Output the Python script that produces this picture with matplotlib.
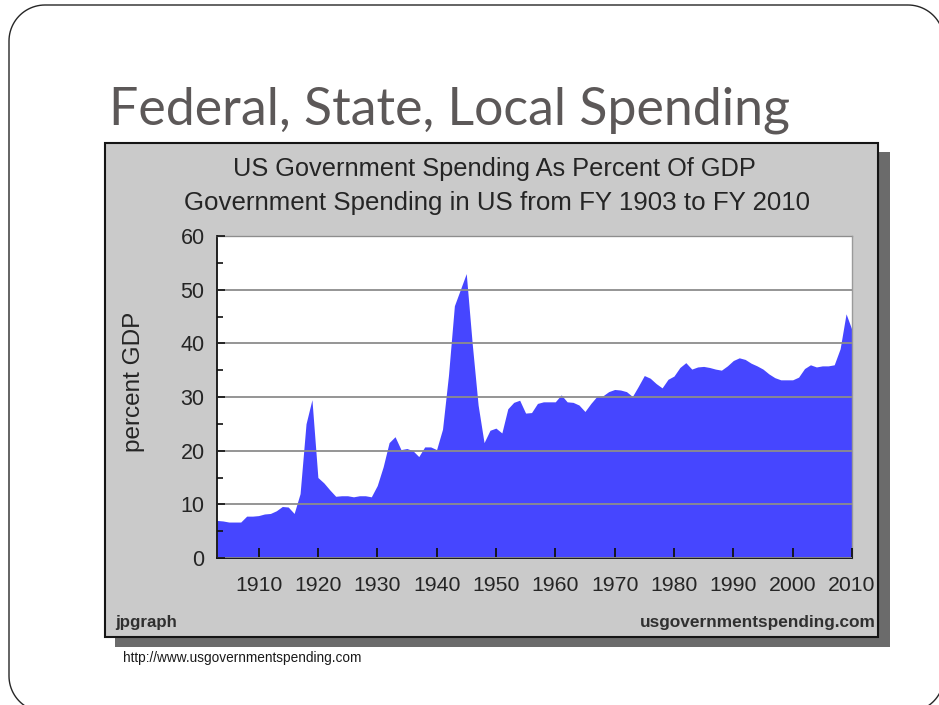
import matplotlib
matplotlib.use("Agg")
import numpy as np
import matplotlib.pyplot as plt
from matplotlib.patches import Rectangle, PathPatch
from matplotlib.path import Path
from matplotlib.transforms import IdentityTransform

# ---------------- data ----------------
years = list(range(1903, 2011))
pct_gdp = [
    7.0, 6.9, 6.7, 6.7, 6.7, 7.8, 7.8,            # 1903-1909
    7.9, 8.2, 8.3, 8.8, 9.6, 9.5, 8.3, 12.0, 25.0, 29.5,   # 1910-1919
    15.0, 14.0, 12.7, 11.5, 11.6, 11.6, 11.4, 11.6, 11.6, 11.4,  # 1920-1929
    13.5, 17.0, 21.5, 22.6, 20.2, 20.4, 20.0, 18.9, 20.7, 20.7,  # 1930-1939
    20.2, 24.0, 34.0, 47.0, 50.0, 53.0, 40.0, 28.5, 21.5, 23.8,  # 1940-1949
    24.2, 23.3, 27.8, 29.0, 29.4, 27.0, 27.1, 28.8, 29.1, 29.1,  # 1950-1959
    29.1, 30.4, 29.1, 29.0, 28.5, 27.3, 28.8, 30.1, 30.2, 31.0,  # 1960-1969
    31.4, 31.3, 31.0, 30.1, 32.0, 34.0, 33.5, 32.5, 31.7, 33.3,  # 1970-1979
    33.9, 35.5, 36.4, 35.2, 35.6, 35.7, 35.5, 35.2, 35.0, 35.8,  # 1980-1989
    36.8, 37.3, 37.0, 36.3, 35.8, 35.2, 34.3, 33.6, 33.2, 33.2,  # 1990-1999
    33.2, 33.7, 35.3, 36.0, 35.6, 35.8, 35.8, 36.0, 39.0, 45.5,  # 2000-2009
    42.5,                                                      # 2010
]
x_ticks = list(range(1910, 2011, 10))
y_ticks = [0, 10, 20, 30, 40, 50, 60]
y_minor = [5, 15, 25, 35, 45, 55]

slide_title = "Federal, State, Local Spending"
chart_title1 = "US Government Spending As Percent Of GDP"
chart_title2 = "Government Spending in US from FY 1903 to FY 2010"
y_label = "percent GDP"
left_credit = "jpgraph"
right_credit = "usgovernmentspending.com"
source_url = "http://www.usgovernmentspending.com"

# ---------------- figure ----------------
W, H = 939, 705
fig = plt.figure(figsize=(W / 100, H / 100), dpi=100)
fig.patch.set_facecolor("white")
ident = IdentityTransform()


def fx(x):
    return x / W


def fy(y):
    return (H - y) / H


def rounded_rect_path(x0, y0, x1, y1, r):
    """Rounded rectangle in pixel coords (y downward) -> display path."""
    pts = []
    corners = [((x1 - r, y0 + r), -90, 0),    # top-right
               ((x1 - r, y1 - r), 0, 90),     # bottom-right
               ((x0 + r, y1 - r), 90, 180),   # bottom-left
               ((x0 + r, y0 + r), 180, 270)]  # top-left
    for (cx, cy), a0, a1 in corners:
        t = np.radians(np.linspace(a0, a1, 24))
        for tt in t:
            pts.append((cx + r * np.cos(tt), cy + r * np.sin(tt)))
    pts.append(pts[0])
    verts = [(px, H - py) for px, py in pts]
    return Path(verts)


# slide rounded border
slide_box = PathPatch(rounded_rect_path(9, 5, 944, 712, 36), transform=ident,
                      facecolor="none", edgecolor="#262626", linewidth=1.0,
                      zorder=-5)
fig.add_artist(slide_box)

# chart panel shadow + panel
shadow = Rectangle((115, H - 647), 775, 495, transform=ident,
                   facecolor="#6b6b6b", edgecolor="none", zorder=-4)
fig.add_artist(shadow)
panel = Rectangle((105, H - 637), 773, 494, transform=ident,
                  facecolor="#cacaca", edgecolor="#151515", linewidth=1.5,
                  zorder=-3)
fig.add_artist(panel)

# slide title
fig.text(fx(109), fy(125), slide_title, fontsize=37.4, family="Lato",
         color="#5c5858", ha="left", va="baseline")

# chart titles
fig.text(fx(494.5), fy(176), chart_title1, fontsize=18.3,
         family="Liberation Sans", color="#252525", ha="center", va="baseline")
fig.text(fx(497), fy(210), chart_title2, fontsize=18.6,
         family="Liberation Sans", color="#252525", ha="center", va="baseline")

# y label
fig.text(fx(134), fy(382), y_label, fontsize=17.5, family="Liberation Sans",
         color="#252525", rotation=90, ha="center", va="center")

# credits
fig.text(fx(115), fy(627), left_credit, fontsize=12.2, family="Liberation Sans",
         weight="bold", color="#303030", ha="left", va="baseline")
fig.text(fx(876), fy(627), right_credit, fontsize=12.4, family="Liberation Sans",
         weight="bold", color="#303030", ha="right", va="baseline")

# source URL
fig.text(fx(123), fy(662), source_url, fontsize=9.8, family="Liberation Sans",
         color="#1a1a1a", ha="left", va="baseline")

# ---------------- plot ----------------
ax = fig.add_axes([fx(217), fy(558), (852 - 217) / W, (558 - 236) / H])
ax.set_facecolor("white")
ax.fill_between(years, pct_gdp, 0, color="#4646ff", linewidth=0, zorder=1)
ax.set_xlim(1903, 2010)
ax.set_ylim(0, 60)
ax.set_xticks(x_ticks)
ax.set_xticklabels([str(t) for t in x_ticks])
ax.set_yticks(y_ticks)
ax.set_yticks(y_minor, minor=True)
ax.yaxis.grid(True, which="major", color="#8c8c8c", linewidth=1.3)
ax.set_axisbelow(False)

for lab in ax.get_xticklabels() + ax.get_yticklabels():
    lab.set_family("Liberation Sans")
    lab.set_color("#252525")

ax.tick_params(axis="x", direction="in", length=7, width=1.3, color="#111111",
               labelsize=15.3, pad=13)
ax.tick_params(axis="y", which="major", direction="in", length=6, width=1.2,
               color="#111111", labelsize=15.5, pad=9)
ax.tick_params(axis="y", which="minor", direction="in", length=4, width=1.2,
               color="#111111")

for side in ("left", "bottom"):
    ax.spines[side].set_color("#111111")
    ax.spines[side].set_linewidth(1.3)
for side in ("top", "right"):
    ax.spines[side].set_color("#9a9a9a")
    ax.spines[side].set_linewidth(1.0)

fig.savefig("out.png", dpi=100)
